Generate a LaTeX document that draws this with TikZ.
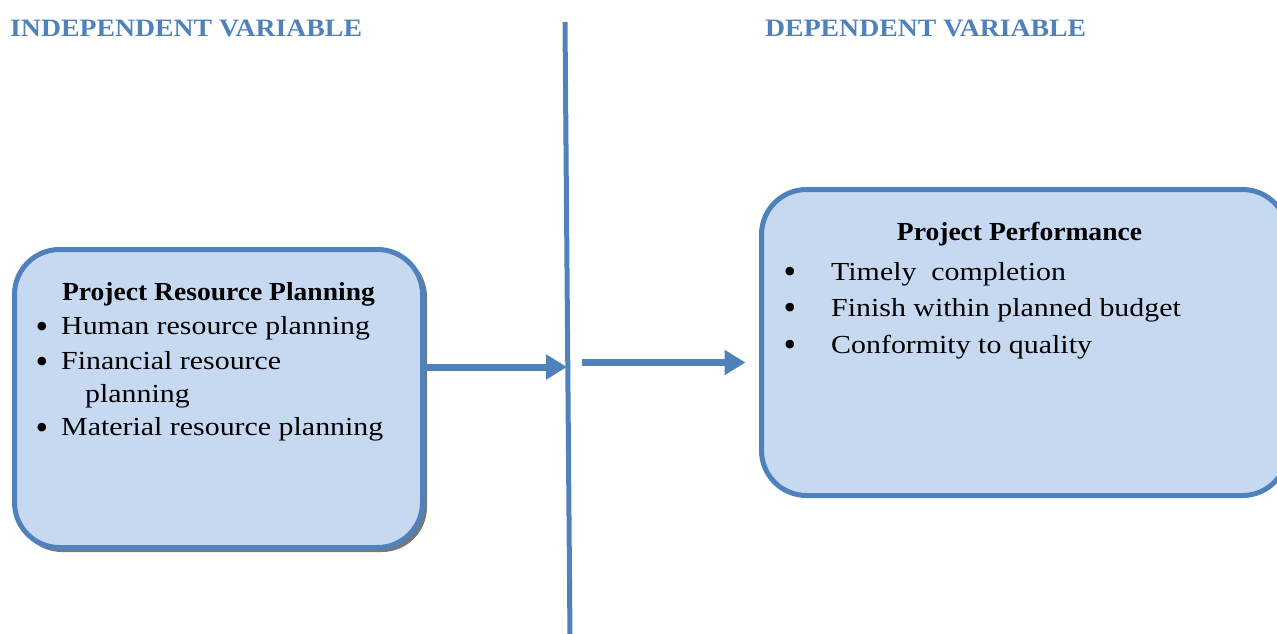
\documentclass[tikz,border=0pt]{standalone}
\usepackage{fontspec}
\setmainfont{Liberation Serif}
\newfontfamily\bodyfont[FakeStretch=1.15]{Liberation Serif}
\newfontfamily\titlefont[FakeStretch=1.06]{Liberation Serif}
\newfontfamily\headfont[FakeStretch=1.11]{Liberation Serif}
\usetikzlibrary{arrows.meta}
\definecolor{lineblue}{RGB}{79,129,189}
\definecolor{fillblue}{RGB}{198,217,241}
\definecolor{shadowgray}{RGB}{120,120,120}
\tikzset{
  box/.style={draw=lineblue, fill=fillblue, line width=5pt, rounded corners=45pt, inner sep=0pt},
  header/.style={anchor=base west, inner sep=0pt, text=lineblue, font=\headfont\fontsize{25}{28}\selectfont\bfseries},
  txt/.style={anchor=base west, inner sep=0pt, font=\bodyfont\fontsize{26}{28}\selectfont},
  ttl/.style={anchor=base, inner sep=0pt, font=\titlefont\fontsize{26}{28}\selectfont\bfseries},
  bul/.style={anchor=center, inner sep=0pt, font=\fontsize{36}{36}\selectfont},
  flow/.style={draw=lineblue, line width=7pt, -{Triangle[length=21pt,width=24pt]}},
  divider/.style={draw=lineblue, line width=5pt}
}
\begin{document}
\begin{tikzpicture}[x=1pt,y=-1pt]
\useasboundingbox (0,0) rectangle (1277,633);
\clip (0,0) rectangle (1277,633);
% headers
\node[header] (h1) at (10,36) {INDEPENDENT VARIABLE};
\node[header] (h2) at (765,36) {DEPENDENT VARIABLE};
% divider line
\coordinate (top) at (565,22);
\coordinate (bot) at (570,640);
\draw[divider] (top) -- (bot);
% left box with shadow
\fill[shadowgray, rounded corners=45pt] (17,252) rectangle (427,552);
\node[box, minimum width=408pt, minimum height=298pt] (L) at (218.5,398.5) {};
% right box
\node[box, minimum width=526pt, minimum height=306pt] (R) at (1024.5,342.5) {};
% left text
\node[ttl] (lt) at (218.5,300) {Project Resource Planning};
\node[bul] (lb1) at (42,330) {•};
\node[txt] (l1) at (61,334) {Human resource planning};
\node[bul] (lb2) at (42,365) {•};
\node[txt] (l2) at (61,369) {Financial resource};
\node[txt] (l2b) at (85,402) {planning};
\node[bul] (lb3) at (42,431) {•};
\node[txt] (l3) at (61,435) {Material resource planning};
% right text
\node[ttl] (rt) at (1019.5,240) {Project Performance};
\node[bul] (rb1) at (790,275) {•};
\node[txt] (r1) at (831,280) {Timely\ \ completion};
\node[bul] (rb2) at (790,311) {•};
\node[txt] (r2) at (831,316) {Finish within planned budget};
\node[bul] (rb3) at (790,348) {•};
\node[txt] (r3) at (831,353) {Conformity to quality};
% arrows
\coordinate (a1e) at (567,367);
\coordinate (a2s) at (582,362.5);
\draw[flow] (L.east |- a1e) -- (a1e);
\draw[flow, shorten >=13.5pt] (a2s) -- (a2s -| R.west);
\end{tikzpicture}
\end{document}
